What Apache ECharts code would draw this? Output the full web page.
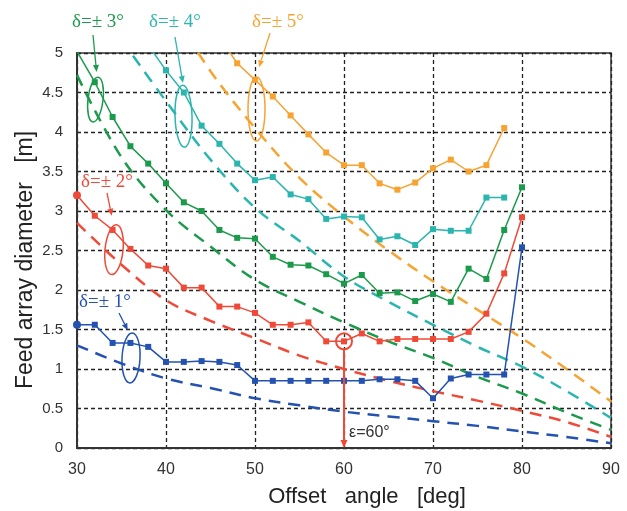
<!DOCTYPE html>
<html><head><meta charset="utf-8">
<script src="https://cdn.jsdelivr.net/npm/echarts@6/dist/echarts.min.js"></script>
<style>html,body{margin:0;padding:0;background:#fff}#c{width:627px;height:511px}</style>
</head><body><div id="c"></div>
<script>
// ---- data ----
const measAngles = [30,32,34,36,38,40,42,44,46,48,50,52,54,56,58,60,62,64,66,68,70,72,74,76,78,80];
const blueMeas  = [1.56,1.56,1.33,1.33,1.28,1.09,1.09,1.10,1.09,1.05,0.85,0.85,0.85,0.85,0.85,0.85,0.85,0.87,0.87,0.85,0.63,0.88,0.93,0.93,0.93,2.54];
const redMeas   = [3.20,2.94,2.76,2.52,2.31,2.27,2.03,2.03,1.79,1.79,1.71,1.56,1.56,1.59,1.35,1.35,1.45,1.35,1.38,1.38,1.38,1.38,1.47,1.70,2.21,2.92];
const greenMeas = [5.02,4.63,4.19,3.82,3.60,3.35,3.11,3.00,2.76,2.66,2.65,2.42,2.32,2.31,2.20,2.08,2.19,1.96,1.97,1.86,1.95,1.85,2.27,2.14,2.76,3.30];
const cyanAngles = [38,40,42,44,46,48,50,52,54,56,58,60,62,64,66,68,70,72,74,76,78];
const cyanMeas   = [5.10,4.78,4.50,4.08,3.85,3.60,3.39,3.43,3.21,3.15,2.90,2.93,2.92,2.64,2.68,2.57,2.77,2.75,2.75,3.17,3.17];
const orangeAngles = [46,48,50,52,54,56,58,60,62,64,66,68,70,72,74,76,78];
const orangeMeas   = [5.20,4.87,4.66,4.45,4.21,3.97,3.74,3.58,3.58,3.35,3.27,3.36,3.54,3.65,3.50,3.58,4.05];

const dashAngles = [30,35,40,45,50,55,60,65,70,75,80,85,90];
const blueDash  = [1.30,1.07,0.88,0.76,0.63,0.54,0.46,0.40,0.34,0.28,0.21,0.14,0.06];
const redDash   = [2.85,2.32,1.87,1.61,1.39,1.17,1.00,0.85,0.72,0.60,0.47,0.33,0.14];
const greenDash = [4.72,3.68,3.01,2.55,2.13,1.85,1.59,1.35,1.14,0.90,0.69,0.45,0.23];
const cyanDashAngles = [35,40,45,50,55,60,65,70,75,80,85,90];
const cyanDash  = [5.17,4.39,3.65,3.04,2.62,2.17,1.85,1.56,1.28,1.03,0.72,0.38];
const orangeDashAngles = [40,45,50,55,60,65,70,75,80,85,90];
const orangeDash = [5.65,4.77,4.05,3.42,2.93,2.50,2.11,1.75,1.39,1.00,0.59];

const xTicks = [30,40,50,60,70,80,90];
const deltaLabels = ['δ=± 1°','δ=± 2°','δ=± 3°','δ=± 4°','δ=± 5°'];
const epsLabel = 'ε=60°';
const epsAngle = 60, epsValue = 1.35;

const C = {blue:'#2352b0', red:'#ef4a37', green:'#1b9a4b', cyan:'#2ab5ae', orange:'#f6a332'};

function pairs(xs, ys, firstCircle){
  return xs.map((x,i)=> (firstCircle && i===0) ? {value:[x,ys[i]], symbol:'circle', symbolSize:8} : [x,ys[i]]);
}
function meas(name, xs, ys, color, fc){
  return {name, type:'line', data:pairs(xs,ys,fc), symbol:'rect', symbolSize:6, clip:true,
    lineStyle:{color, width:1.5}, itemStyle:{color}, z:4};
}
function dash(name, xs, ys, color){
  return {name, type:'line', data:pairs(xs,ys,false), showSymbol:false, smooth:0.35, clip:true,
    lineStyle:{color, width:2.5, type:[12,8]}, z:3};
}

const chart = echarts.init(document.getElementById('c'), null, {renderer:'canvas'});
const axisFont = {fontFamily:'Liberation Sans', color:'#333'};
chart.setOption({
  animation:false,
  backgroundColor:'#fff',
  grid:{left:77, right:16, top:53, bottom:63, show:true, borderColor:'#333', borderWidth:1.5},
  xAxis:{type:'value', min:30, max:90, interval:10,
    axisLine:{show:true, lineStyle:{color:'#333', width:2}}, axisTick:{show:false},
    axisLabel:Object.assign({fontSize:16, margin:14}, axisFont),
    splitLine:{show:true, lineStyle:{color:'#222', width:1.3, type:[4,3]}}},
  yAxis:{type:'value', min:0, max:5, interval:0.5,
    axisLine:{show:true, lineStyle:{color:'#333', width:2}}, axisTick:{show:false},
    axisLabel:Object.assign({fontSize:15, margin:14}, axisFont),
    splitLine:{show:true, lineStyle:{color:'#222', width:1.3, type:[4,3]}}},
  series:[
    dash('d1', dashAngles, blueDash, C.blue),
    dash('d2', dashAngles, redDash, C.red),
    dash('d3', dashAngles, greenDash, C.green),
    dash('d4', cyanDashAngles, cyanDash, C.cyan),
    dash('d5', orangeDashAngles, orangeDash, C.orange),
    meas('m1', measAngles, blueMeas, C.blue, true),
    meas('m2', measAngles, redMeas, C.red, true),
    meas('m3', measAngles, greenMeas, C.green, false),
    meas('m4', cyanAngles, cyanMeas, C.cyan, false),
    meas('m5', orangeAngles, orangeMeas, C.orange, false)
  ]
});

function px(x,y){ return chart.convertToPixel({gridIndex:0},[x,y]); }
function arrow(p0,p1,color,w,hl,hw){
  const dx=p1[0]-p0[0], dy=p1[1]-p0[1], L=Math.hypot(dx,dy), ux=dx/L, uy=dy/L;
  const bx=p1[0]-ux*hl, by=p1[1]-uy*hl, nx=-uy, ny=ux;
  return [
    {type:'line', z:50, shape:{x1:p0[0],y1:p0[1],x2:bx,y2:by}, style:{stroke:color, lineWidth:w}},
    {type:'polygon', z:50, shape:{points:[[p1[0],p1[1]],[bx+nx*hw,by+ny*hw],[bx-nx*hw,by-ny*hw]]}, style:{fill:color}}
  ];
}
function ell(cx,cy,rx,ry,rot,color){
  const p=px(cx,cy);
  return {type:'ellipse', z:50, x:p[0], y:p[1], rotation:rot, shape:{cx:0,cy:0,rx,ry}, style:{stroke:color, fill:null, lineWidth:1.5}};
}
function label(t,x,y,color){
  return {type:'text', z:60, x, y, style:{text:t, fill:color, font:'19px "Liberation Serif"', align:'left', verticalAlign:'top'}};
}
const g = [];
// delta labels
g.push(label(deltaLabels[2], 72, 13, C.green));
g.push(label(deltaLabels[3], 149, 13, C.cyan));
g.push(label(deltaLabels[4], 252, 13, C.orange));
g.push(label(deltaLabels[1], 81, 173, C.red));
g.push(label(deltaLabels[0], 79, 293, C.blue));
// arrows from labels
g.push(...arrow([93,35], px(32.2,4.76), C.green, 1.3, 7, 3));
g.push(...arrow([175,37], px(41.9,4.62), C.cyan, 1.3, 7, 3));
g.push(...arrow([270,33], px(50.45,4.82), C.orange, 1.3, 7, 3));
g.push(...arrow([107,193], px(33.9,2.94), C.red, 1.3, 7, 3));
g.push(...arrow([119,313], px(35.7,1.49), C.blue, 1.3, 7, 3));
// ellipses
g.push(ell(32.08,4.41,7.5,22.5,-0.12,C.green));
g.push(ell(41.97,4.20,8.5,31,0.03,C.cyan));
g.push(ell(50.17,4.29,8.5,32,0,C.orange));
g.push(ell(34.16,2.51,9,25,-0.1,C.red));
g.push(ell(36.07,1.14,9,25,-0.05,C.blue));
// epsilon ring and arrow
const rp = px(epsAngle, epsValue);
g.push({type:'circle', z:55, shape:{cx:rp[0], cy:rp[1], r:8}, style:{stroke:C.red, fill:null, lineWidth:2}});
g.push(...arrow([rp[0], rp[1]+8], px(epsAngle,0), C.red, 2, 8, 3.5));
g.push({type:'text', z:60, x:rp[0]+5, y:px(epsAngle,0.2)[1], style:{text:epsLabel, fill:'#333', font:'16px "Liberation Sans"', align:'left', verticalAlign:'middle'}});
// axis names
g.push({type:'text', z:60, x:367, y:497, style:{text:'Offset   angle   [deg]', fill:'#222', font:'22px "Liberation Sans"', align:'center', verticalAlign:'middle'}});
g.push({type:'text', z:60, x:26, y:260, rotation:Math.PI/2, style:{text:'Feed array diameter   [m]', fill:'#222', font:'23px "Liberation Sans"', align:'center', verticalAlign:'middle'}});
chart.setOption({graphic:g});
</script></body></html>
